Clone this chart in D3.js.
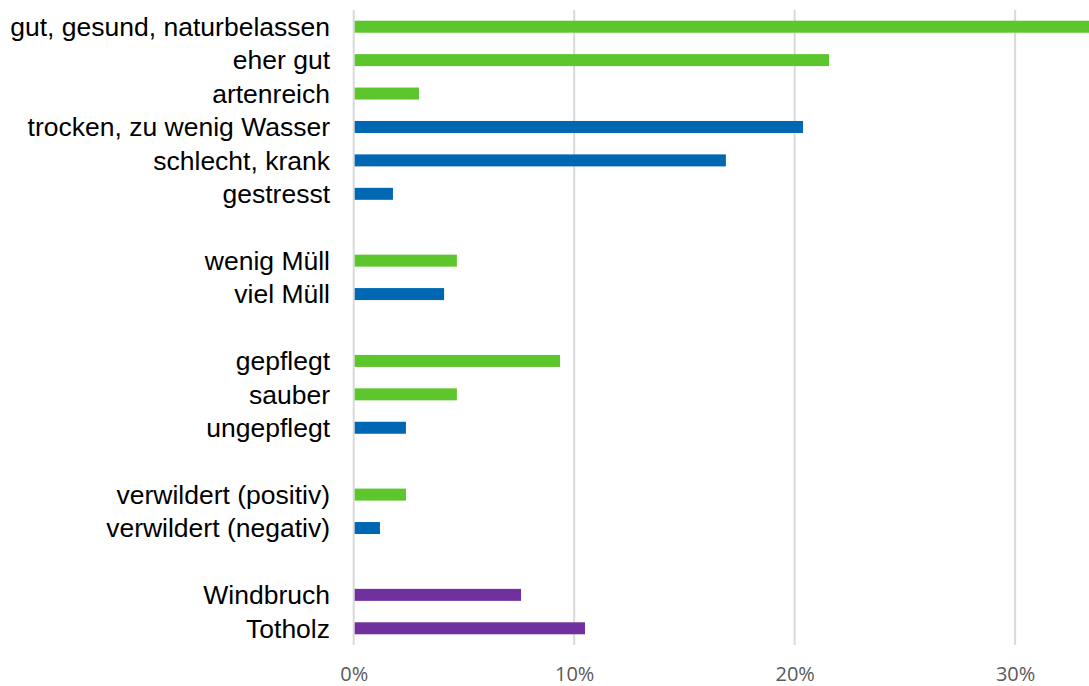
<!DOCTYPE html>
<html>
<head>
<meta charset="utf-8">
<script src="https://cdn.jsdelivr.net/npm/d3@7"></script>
<style>
  html, body { margin: 0; padding: 0; background: #fff; }
  .cat-label { font-family: "Liberation Sans", Arial, sans-serif; font-size: 26.5px; fill: #000; }
  .axis--x text { font-family: "Open Sans", sans-serif; font-size: 20px; fill: #595959; }
  .grid line { stroke: #d9d9d9; stroke-width: 2; }
</style>
</head>
<body>
<div id="chart"></div>
<script>
// categories, top to bottom
var categories = [
	"gut, gesund, naturbelassen", "eher gut", "artenreich",
	"trocken, zu wenig Wasser", "schlecht, krank", "gestresst",
	"wenig Müll", "viel Müll",
	"gepflegt", "sauber", "ungepflegt",
	"verwildert (positiv)", "verwildert (negativ)",
	"Windbruch", "Totholz"
];
// share of answers in percent
var values = [33.4, 21.56, 2.96, 20.38, 16.88, 1.78, 4.68, 4.1, 9.36, 4.68, 2.37, 2.37, 1.19, 7.59, 10.49];
// positive / negative / neutral
var tone = ["pos", "pos", "pos", "neg", "neg", "neg", "pos", "neg", "pos", "pos", "neg", "pos", "neg", "neu", "neu"];
// how many rows per block (a blank row sits between blocks)
var groupSizes = [6, 2, 3, 2, 2];
var xTicks = [0, 10, 20, 30];

var width = 1089, height = 686;
var colors = {pos: "#5cc62c", neg: "#0068b3", neu: "#70309d"};

// slot index of each row, with gaps between blocks
var slots = [];
var s = 0;
groupSizes.forEach(function(n) {
	for (var k = 0; k < n; k++) slots.push(s++);
	s++;
});
var nSlots = s - 1;

var x = d3.scaleLinear().domain([0, 33.35]).range([353.7, 1089]);
var y = d3.scaleBand().domain(d3.range(nSlots)).range([10, 645]);

var svg = d3.select("#chart").append("svg")
	.attr("width", width)
	.attr("height", height);

svg.append("defs").append("clipPath")
	.attr("id", "clip")
	.append("rect")
	.attr("x", 0).attr("y", 0)
	.attr("width", width).attr("height", height);

// vertical gridlines
svg.append("g")
	.attr("class", "grid")
	.selectAll("line")
	.data(xTicks)
	.join("line")
	.attr("x1", d => x(d)).attr("x2", d => x(d))
	.attr("y1", y.range()[0]).attr("y2", y.range()[1]);

// bars
var barH = 12;
svg.append("g")
	.attr("clip-path", "url(#clip)")
	.selectAll("rect")
	.data(values)
	.join("rect")
	.attr("x", x(0) + 1)
	.attr("y", (d, i) => y(slots[i]) + y.bandwidth() / 2 - barH / 2)
	.attr("width", d => x(d) - x(0) - 1)
	.attr("height", barH)
	.attr("fill", (d, i) => colors[tone[i]]);

// category labels
svg.append("g")
	.selectAll("text")
	.data(categories)
	.join("text")
	.attr("class", "cat-label")
	.attr("x", 330)
	.attr("y", (d, i) => y(slots[i]) + y.bandwidth() / 2)
	.attr("dy", "0.35em")
	.attr("text-anchor", "end")
	.text(d => d);

// x axis (labels only)
var xAxis = d3.axisBottom(x)
	.tickValues(xTicks)
	.tickFormat(d => d + "%")
	.tickSize(0)
	.tickPadding(0);

var gx = svg.append("g")
	.attr("class", "axis axis--x")
	.attr("transform", "translate(0,681)")
	.call(xAxis);
gx.select(".domain").remove();
gx.selectAll("text").attr("dy", "0");
</script>
</body>
</html>
